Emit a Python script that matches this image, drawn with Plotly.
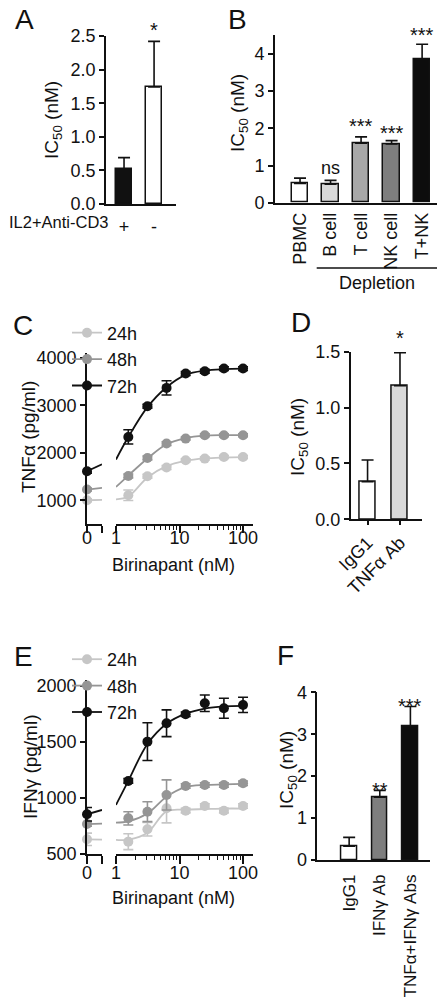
import plotly.graph_objects as go

# The page body has an 8px default margin: the figure is drawn 8px in from the
# window's top-left corner, so it is sized to the remaining visible area.
OFF = 8
W, H = 445 - OFF, 1000 - OFF
def px(x): return (x - OFF) / W
def py(y): return 1 - (y - OFF) / H

FONT = "Liberation Sans, Arial, Helvetica, sans-serif"
BLK = "#111111"

# ---------------- data ----------------
# Panel A
a_cats = ["+", "-"]
a_vals = [0.52, 1.74]
a_err = [0.17, 0.68]
a_colors = ["#111111", "#ffffff"]

# Panel B
b_cats = ["PBMC", "B cell", "T cell", "NK cell", "T+NK"]
b_vals = [0.52, 0.50, 1.60, 1.58, 3.85]
b_err = [0.14, 0.10, 0.17, 0.09, 0.41]
b_colors = ["#ffffff", "#d9d9d9", "#a8a8a8", "#7e7e7e", "#0d0d0d"]

# Dose-response (C, E)
doses = [1.5625, 3.125, 6.25, 12.5, 25, 50, 100]
fit_x = [1, 1.5625, 3.125, 6.25, 12.5, 25, 50, 100]
series_names = ["24h", "48h", "72h"]
series_colors = ["#c6c6c6", "#959595", "#111111"]

# Panel C: TNFa
c_zero = [1000, 1225, 1611]
c_zero_err = [30, 30, 40]
c_zero_fit_end = [1010, 1260, 1758]
c_24 = [1105, 1505, 1688, 1842, 1877, 1912, 1912]
c_48 = [1512, 1891, 2193, 2298, 2368, 2368, 2368]
c_72 = [2333, 2979, 3365, 3667, 3716, 3772, 3772]
c_24_err = [110, 40, 40, 30, 30, 30, 30]
c_48_err = [40, 40, 40, 30, 30, 30, 30]
c_72_err = [150, 40, 150, 40, 40, 40, 40]
c_24_fit = [1020, 1080, 1480, 1720, 1830, 1880, 1900, 1910]
c_48_fit = [1280, 1520, 1880, 2180, 2310, 2360, 2370, 2370]
c_72_fit = [1857, 2330, 2960, 3380, 3640, 3730, 3760, 3770]

# Panel D
d_cats = ["IgG1", "TNFα Ab"]
d_vals = [0.336, 1.195]
d_err = [0.195, 0.295]
d_colors = ["#ffffff", "#d9d9d9"]

# Panel E: IFNg
e_zero = [631, 767, 854]
e_zero_err = [55, 20, 60]
e_zero_fit_end = [628, 770, 892]
e_24 = [610, 720, 907, 886, 928, 886, 928]
e_48 = [818, 877, 1026, 1106, 1115, 1115, 1130]
e_72 = [1151, 1501, 1665, 1745, 1843, 1798, 1828]
e_24_err = [71, 60, 130, 20, 20, 20, 20]
e_48_err = [59, 89, 134, 20, 20, 20, 20]
e_72_err = [20, 168, 119, 20, 74, 89, 68]
e_24_fit = [625, 628, 690, 880, 895, 900, 905, 905]
e_48_fit = [779, 790, 860, 1010, 1095, 1115, 1120, 1125]
e_72_fit = [937, 1151, 1480, 1660, 1750, 1795, 1815, 1820]

# Panel F
f_cats = ["IgG1", "IFNγ Ab", "TNFα+IFNγ Abs"]
f_vals = [0.33, 1.50, 3.20]
f_err = [0.21, 0.16, 0.46]
f_colors = ["#ffffff", "#7e7e7e", "#0d0d0d"]

fig = go.Figure()

LW = 1.6
TF = dict(size=18, color=BLK, family=FONT)

def yax(domain_px, rng, tickvals, anchor, fmt=None):
    d = dict(domain=[py(domain_px[1]), py(domain_px[0])], range=rng, tickvals=tickvals,
             showline=True, linecolor=BLK, linewidth=LW, ticks="outside", ticklen=5,
             tickwidth=LW, tickcolor=BLK, showgrid=False, zeroline=False, automargin=False,
             tickfont=TF, anchor=anchor, fixedrange=True)
    if fmt:
        d["tickformat"] = fmt
    return d

def xcat(domain_px, rng, anchor, angle=0, ticklen=6, tickcolor="rgba(0,0,0,0)", size=18):
    return dict(domain=[px(domain_px[0]), px(domain_px[1])], range=rng, type="category",
                showline=True, linecolor=BLK, linewidth=LW, ticks="outside", ticklen=ticklen,
                tickwidth=LW, tickcolor=tickcolor, showgrid=False, zeroline=False, automargin=False,
                tickangle=angle, tickfont=dict(size=size, color=BLK, family=FONT), anchor=anchor, fixedrange=True)

def bars(cats, vals, errs, colors, xa, ya, width):
    fig.add_trace(go.Bar(x=cats, y=vals, marker=dict(color=colors, line=dict(color=BLK, width=1.5)),
                         width=width,
                         error_y=dict(type="data", array=errs, arrayminus=[0]*len(errs), symmetric=False,
                                      color=BLK, thickness=1.6, width=6),
                         xaxis=xa, yaxis=ya, showlegend=False))

bars(a_cats, a_vals, a_err, a_colors, "x", "y", 0.53)
bars(b_cats, b_vals, b_err, b_colors, "x2", "y2", 0.54)
bars(d_cats, d_vals, d_err, d_colors, "x5", "y5", 0.5)
bars(f_cats, f_vals, f_err, f_colors, "x8", "y8", 0.5)

def dose_panel(zero, zero_err, zero_end, means, errs, fits, xz, xl, ya, leg):
    for i, name in enumerate(series_names):
        col = series_colors[i]
        fig.add_trace(go.Scatter(x=[0, 1], y=[zero[i], zero_end[i]], mode="lines",
                                 line=dict(color=col, width=1.8), xaxis=xz, yaxis=ya,
                                 showlegend=False, cliponaxis=False, hoverinfo="skip"))
        fig.add_trace(go.Scatter(x=fit_x, y=fits[i], mode="lines",
                                 line=dict(color=col, width=1.8, shape="spline", smoothing=1.0),
                                 xaxis=xl, yaxis=ya, showlegend=False, cliponaxis=False, hoverinfo="skip"))
    for i, name in enumerate(series_names):
        col = series_colors[i]
        fig.add_trace(go.Scatter(x=[0], y=[zero[i]], mode="markers",
                                 marker=dict(color=col, size=10),
                                 error_y=dict(type="data", array=[zero_err[i]], color=col, thickness=1.6, width=5),
                                 xaxis=xz, yaxis=ya, showlegend=False, cliponaxis=False))
        fig.add_trace(go.Scatter(x=doses, y=means[i], mode="markers",
                                 marker=dict(color=col, size=10),
                                 error_y=dict(type="data", array=errs[i], color=col, thickness=1.6, width=5),
                                 xaxis=xl, yaxis=ya, showlegend=False, cliponaxis=False))
        fig.add_trace(go.Scatter(x=[None], y=[None], mode="lines+markers", name=name,
                                 marker=dict(color=col, size=10), line=dict(color=col, width=1.8),
                                 xaxis=xl, yaxis=ya, legend=leg, legendgroup=leg + name))

dose_panel(c_zero, c_zero_err, c_zero_fit_end, [c_24, c_48, c_72], [c_24_err, c_48_err, c_72_err],
           [c_24_fit, c_48_fit, c_72_fit], "x3", "x4", "y3", "legend")
dose_panel(e_zero, e_zero_err, e_zero_fit_end, [e_24, e_48, e_72], [e_24_err, e_48_err, e_72_err],
           [e_24_fit, e_48_fit, e_72_fit], "x6", "x7", "y6", "legend2")

def xzero(domain_px, anchor, ticklen, standoff):
    return dict(domain=[px(domain_px[0]), px(domain_px[1])], range=[0, 1], tickvals=[0, 1], ticktext=["0", " "],
                showline=True, linecolor=BLK, linewidth=LW, ticks="outside", ticklen=ticklen, tickwidth=LW,
                tickcolor=BLK, showgrid=False, zeroline=False, anchor=anchor, automargin=False,
                ticklabelstandoff=standoff, tickfont=TF, fixedrange=True)

minor_vals = [2, 3, 4, 5, 6, 7, 8, 9, 20, 30, 40, 50, 60, 70, 80, 90]
def xlog(domain_px, anchor, ticklen, standoff):
    return dict(domain=[px(domain_px[0]), px(domain_px[1])], type="log", range=[0, 2.157],
                tickvals=[1, 10, 100], ticktext=["1", "10", "100"],
                showline=True, linecolor=BLK, linewidth=LW, ticks="outside", ticklen=ticklen, tickwidth=LW,
                tickcolor=BLK, showgrid=False, zeroline=False, anchor=anchor, automargin=False,
                minor=dict(tickvals=minor_vals, ticks="outside", ticklen=4, tickwidth=1.2, tickcolor=BLK, showgrid=False),
                ticklabelstandoff=standoff, tickfont=TF, fixedrange=True)

fig.update_layout(
    template="none",
    width=W, height=H, margin=dict(l=0, r=0, t=0, b=0, pad=0, autoexpand=False),
    paper_bgcolor="white", plot_bgcolor="white",
    font=dict(family=FONT, size=18, color=BLK),
    bargap=0,
    xaxis=xcat([106, 176], [-0.6, 1.73], "y"),
    yaxis=yax([36, 204], [0, 2.5], [0, 0.5, 1.0, 1.5, 2.0, 2.5], "x", ".1f"),
    xaxis2=xcat([275, 445], [-0.82, 4.75], "y2", angle=-90, ticklen=1),
    yaxis2=yax([35.3, 202.7], [0, 4.5], [0, 1, 2, 3, 4], "x2"),
    xaxis3=xzero([87, 102], "y3", 7, -10),
    xaxis4=xlog([116, 253], "y3", 7, -10),
    yaxis3=yax([353, 524], [500, 4100], [1000, 2000, 3000, 4000], "x3"),
    xaxis5=xcat([350.7, 421.7], [-0.52, 1.67], "y5", angle=-45, ticklen=4, tickcolor=BLK),
    yaxis5=yax([351.7, 519.3], [0, 1.5], [0, 0.5, 1.0, 1.5], "x5", ".1f"),
    xaxis6=xzero([87, 102], "y6", 8, -6),
    xaxis7=xlog([116, 253], "y6", 8, -6),
    yaxis6=yax([680, 854], [500, 2050], [500, 1000, 1500, 2000], "x6"),
    xaxis8=xcat([317.3, 430], [-1.04, 2.64], "y8", angle=-90, size=17),
    yaxis8=yax([692.3, 860], [0, 4], [0, 1, 2, 3, 4], "x8"),
    legend=dict(x=px(67), y=py(314.5), xanchor="left", yanchor="top", bgcolor="rgba(0,0,0,0)",
                font=TF, tracegroupgap=0, itemclick=False),
    legend2=dict(x=px(67), y=py(641), xanchor="left", yanchor="top", bgcolor="rgba(0,0,0,0)",
                 font=TF, tracegroupgap=0, itemclick=False),
)

ann = []
def text(x, y, s, size=18, angle=0, xanchor="center", yanchor="middle", xref="paper", yref="paper"):
    ann.append(dict(x=x, y=y, xref=xref, yref=yref, text=s, showarrow=False, textangle=angle,
                    xanchor=xanchor, yanchor=yanchor, font=dict(size=size, family=FONT, color=BLK)))

# panel letters
text(px(24), py(19), "A", 28)
text(px(237), py(20), "B", 28)
text(px(23), py(325), "C", 28)
text(px(301), py(322), "D", 28)
text(px(23), py(656), "E", 28)
text(px(285), py(655), "F", 28)

# y titles
text(px(53), py(120), "IC<sub>50</sub> (nM)", 19, angle=-90)
text(px(239), py(113), "IC<sub>50</sub> (nM)", 19, angle=-90)
text(px(29), py(437), "TNFα (pg/ml)", 19, angle=-90)
text(px(299), py(437), "IC<sub>50</sub> (nM)", 19, angle=-90)
text(px(30), py(767), "IFNγ (pg/ml)", 19, angle=-90)
text(px(288), py(770), "IC<sub>50</sub> (nM)", 19, angle=-90)

# x titles / extra labels
text(px(111), py(222), "IL2+Anti-CD3", 16.5, xanchor="right")
text(px(173), py(565), "Birinapant (nM)", 18)
text(px(173), py(898), "Birinapant (nM)", 18)
text(px(376.7), py(283), "Depletion", 18)

# significance marks
text("-", py(30), "*", 20, xref="x")
text("B cell", py(168), "ns", 18, xref="x2")
text("T cell", py(126), "***", 20, xref="x2")
text("NK cell", py(133), "***", 20, xref="x2")
text("T+NK", py(35), "***", 20, xref="x2")
text("TNFα Ab", py(338), "*", 20, xref="x5")
text("IFNγ Ab", py(790), "**", 20, xref="x8")
text("TNFα+IFNγ Abs", py(706), "***", 20, xref="x8")

fig.update_layout(annotations=ann,
                  shapes=[dict(type="line", xref="paper", yref="paper", x0=px(316.7), x1=px(441.7),
                               y0=py(268), y1=py(268), line=dict(color=BLK, width=1.3))])

fig.write_html("out.html")
